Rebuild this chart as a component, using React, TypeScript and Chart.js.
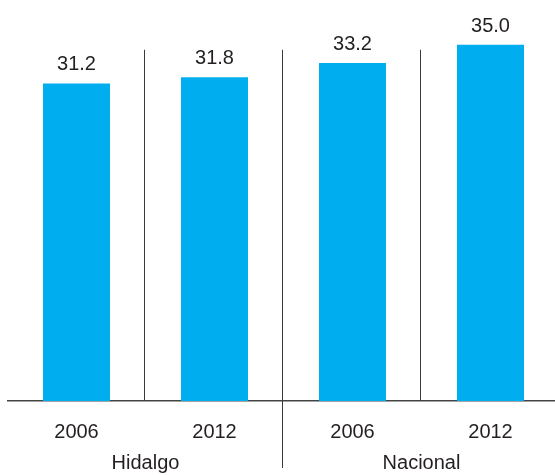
import { useEffect, useRef } from "react";
import { Chart, registerables } from "chart.js";

Chart.register(...registerables);

const years = ["2006", "2012", "2006", "2012"];
const groups = ["Hidalgo", "Nacional"];
const values = [31.2, 31.8, 33.2, 35.0];

const FONT = "'Liberation Sans', Arial, sans-serif";
const TEXT = "#231f20";
const LINE = "#3a3a3a";
const BAR = "#00aeef";

export default function App() {
  const ref = useRef<HTMLCanvasElement>(null);

  useEffect(() => {
    if (!ref.current) return;
    const overlay = {
      id: "overlay",
      afterDatasetsDraw(chart: any) {
        const ctx = chart.ctx;
        const x = chart.scales.x;
        const y = chart.scales.y;
        const area = chart.chartArea;
        ctx.save();
        ctx.font = `20px ${FONT}`;
        ctx.fillStyle = TEXT;
        ctx.textAlign = "center";
        ctx.textBaseline = "alphabetic";
        const meta = chart.getDatasetMeta(0);
        meta.data.forEach((bar: any, i: number) => {
          ctx.fillText(values[i].toFixed(1), bar.x, bar.y - 13);
        });
        ctx.strokeStyle = LINE;
        ctx.lineWidth = 1;
        const top = y.getPixelForValue(34.5);
        for (let i = 0; i < values.length - 1; i++) {
          const bx =
            Math.round((x.getPixelForValue(i) + x.getPixelForValue(i + 1)) / 2) - 1.5;
          const isGroup = (i + 1) % 2 === 0;
          ctx.beginPath();
          ctx.moveTo(bx, top);
          ctx.lineTo(bx, isGroup ? area.bottom + 67 : area.bottom);
          ctx.stroke();
        }
        ctx.textBaseline = "middle";
        groups.forEach((g, gi) => {
          const cx =
            (x.getPixelForValue(gi * 2) + x.getPixelForValue(gi * 2 + 1)) / 2;
          ctx.fillText(g, cx, area.bottom + 62);
        });
        ctx.restore();
      },
    };

    const chart = new Chart(ref.current, {
      type: "bar",
      data: {
        labels: years,
        datasets: [
          {
            data: values,
            backgroundColor: BAR,
            borderWidth: 0,
            barPercentage: 67 / 138,
            categoryPercentage: 1,
          },
        ],
      },
      options: {
        animation: false,
        responsive: true,
        maintainAspectRatio: false,
        layout: { padding: { left: 7.5, right: 0.5, top: 4, bottom: 12 } },
        plugins: {
          legend: { display: false },
          tooltip: { enabled: false },
        },
        scales: {
          x: {
            grid: { display: false, drawTicks: false },
            border: { display: true, color: "#444", width: 1.5 },
            ticks: {
              color: TEXT,
              font: { family: FONT, size: 20 },
              padding: 19,
              maxRotation: 0,
            },
          },
          y: {
            display: false,
            min: 0,
            max: 39,
          },
        },
      },
      plugins: [overlay],
    });
    return () => chart.destroy();
  }, []);

  return (
    <div
      style={{
        position: "absolute",
        left: 0,
        top: 0,
        width: 555,
        height: 475,
        overflow: "hidden",
        background: "#fff",
      }}
    >
      <div style={{ position: "relative", width: 560, height: 475 }}>
        <canvas ref={ref} />
      </div>
    </div>
  );
}
